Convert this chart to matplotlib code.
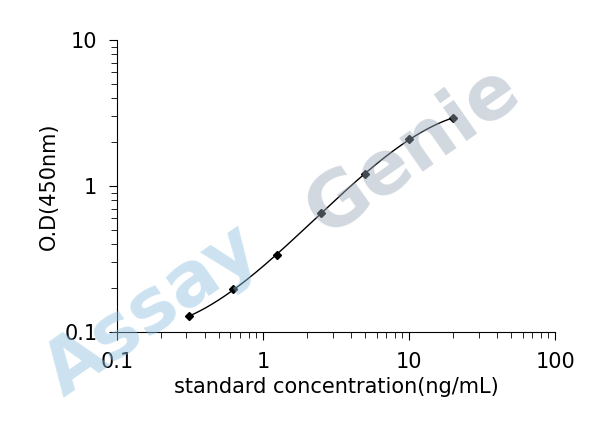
import matplotlib
matplotlib.use("Agg")
import matplotlib.pyplot as plt
import numpy as np

conc = [0.3125, 0.625, 1.25, 2.5, 5, 10, 20]
od = [0.128, 0.197, 0.337, 0.653, 1.21, 2.09, 2.92]

fig = plt.figure(figsize=(6.08, 4.44), dpi=100)
ax = fig.add_axes([0.192, 0.252, 0.721, 0.658])

# smooth curve through points in log space
lx = np.log10(conc)
ly = np.log10(od)
coef = np.polyfit(lx, ly, 3)
xs = np.linspace(lx[0], lx[-1], 200)
ax.plot(10**xs, 10**np.polyval(coef, xs), color="black", linewidth=1, zorder=3)
ax.plot(conc, od, "D", color="black", markersize=4, zorder=4)

ax.set_xscale("log")
ax.set_yscale("log")
ax.set_xlim(0.1, 100)
ax.set_ylim(0.1, 10)
ax.set_xticks([0.1, 1, 10, 100])
ax.set_xticklabels(["0.1", "1", "10", "100"])
ax.set_yticks([0.1, 1, 10])
ax.set_yticklabels(["0.1", "1", "10"])
for s in ["top", "right"]:
    ax.spines[s].set_visible(False)
ax.tick_params(which="both", direction="out", labelsize=15)
ax.tick_params(which="major", length=6, pad=8)
ax.tick_params(which="minor", length=4)
ax.set_xlabel("standard concentration(ng/mL)", fontsize=15)
ax.set_ylabel("O.D(450nm)", fontsize=15)

fig.text(0.25, 0.3, "Assay", fontsize=54, fontweight="bold", color="#8fc0e0",
         alpha=0.45, rotation=35, ha="center", va="center", zorder=0)
fig.text(0.68, 0.66, "Genie", fontsize=54, fontweight="bold", color="#9aa8b8",
         alpha=0.45, rotation=35, ha="center", va="center", zorder=0)

fig.savefig("out.png", dpi=100)
